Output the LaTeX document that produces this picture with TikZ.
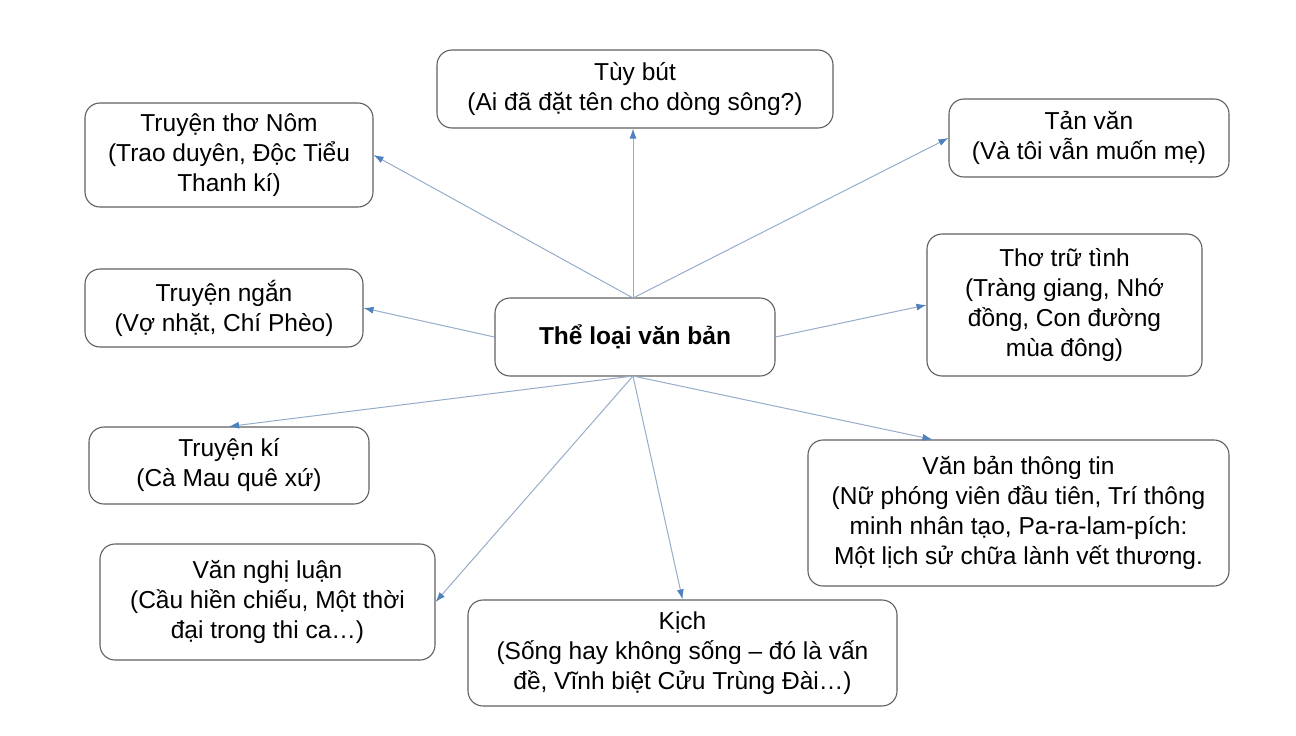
\documentclass[tikz,border=0pt]{standalone}
\usepackage{fontspec}
\setmainfont{Liberation Sans}
\usetikzlibrary{arrows.meta}
\definecolor{boxline}{RGB}{95,95,95}
\definecolor{linkline}{RGB}{150,172,200}
\definecolor{tipblue}{RGB}{79,129,189}
\tikzset{
  box/.style={draw=boxline, line width=1.1pt, rounded corners=15pt, align=center,
    inner sep=0pt, font=\fontsize{24.5}{30}\selectfont},
  link/.style={draw=linkline, line width=1pt, -{Latex[length=10pt,width=7pt,color=tipblue]}}
}
\begin{document}
\begin{tikzpicture}[x=1pt,y=-1pt]
\useasboundingbox (0,0) rectangle (1296,736);
\node[box, minimum width=396pt, minimum height=78pt] (tuybut) at (635,89) {Tùy bút\\(Ai đã đặt tên cho dòng sông?)};
\node[box, minimum width=288pt, minimum height=104pt] (truyentho) at (229,155) {Truyện thơ Nôm\\(Trao duyên, Độc Tiểu\\Thanh kí)};
\node[box, minimum width=280pt, minimum height=78pt] (tanvan) at (1089,138) {Tản văn\\(Và tôi vẫn muốn mẹ)};
\node[box, minimum width=275pt, minimum height=142pt] (thotru) at (1064.5,305) {Thơ trữ tình\\(Tràng giang, Nhớ\\đồng, Con đường\\mùa đông)};
\node[box, minimum width=278pt, minimum height=78pt] (truyenngan) at (224,308) {Truyện ngắn\\(Vợ nhặt, Chí Phèo)};
\node[box, minimum width=280pt, minimum height=78pt, font=\fontsize{24.5}{30}\selectfont\bfseries] (center) at (635,337) {Thể loại văn bản};
\node[box, minimum width=280pt, minimum height=77pt] (truyenki) at (229,465.5) {Truyện kí\\(Cà Mau quê xứ)};
\node[box, minimum width=421pt, minimum height=146pt] (vbtt) at (1018.5,513) {Văn bản thông tin\\(Nữ phóng viên đầu tiên, Trí thông\\minh nhân tạo, Pa-ra-lam-pích:\\Một lịch sử chữa lành vết thương.};
\node[box, minimum width=335pt, minimum height=116pt] (vannghi) at (267.5,602) {Văn nghị luận\\(Cầu hiền chiếu, Một thời\\đại trong thi ca…)};
\node[box, minimum width=429pt, minimum height=106pt] (kich) at (682.5,653) {Kịch\\(Sống hay không sống – đó là vấn\\đề, Vĩnh biệt Cửu Trùng Đài…)};
\coordinate (ct) at (633,298);
\coordinate (cb) at (633,376);
\coordinate (vbttin) at ([xshift=125pt]vbtt.north west);
\draw[link] (ct) -- (ct |- tuybut.south);
\draw[link] (ct) -- (truyentho.east);
\draw[link] (ct) -- (tanvan.west);
\draw[link] (center.west) -- (truyenngan.east);
\draw[link] (center.east) -- (thotru.west);
\draw[link] (cb) -- (truyenki.north);
\draw[link] (cb) -- (vbttin);
\draw[link] (cb) -- (kich.north);
\draw[link] (cb) -- (vannghi.east);
\end{tikzpicture}
\end{document}
